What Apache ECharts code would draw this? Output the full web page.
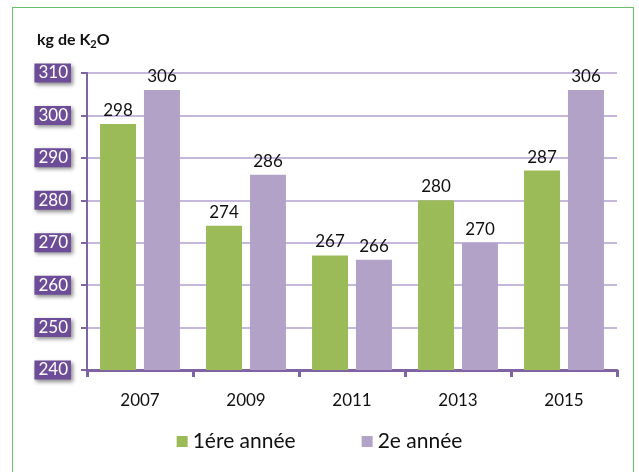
<!DOCTYPE html>
<html>
<head>
<meta charset="utf-8">
<script src="https://cdn.jsdelivr.net/npm/echarts@6/dist/echarts.min.js"></script>
<style>
    html, body { margin: 0; padding: 0; background: #fff; }
    #frame {
        position: absolute; left: 12px; top: 7px; width: 622px; height: 480px;
        border: 1.5px solid #6cc06c; border-bottom: none; box-sizing: border-box;
    }
    #chart { position: absolute; left: 0; top: 0; width: 639px; height: 472px; }
</style>
</head>
<body>
<div id="frame"></div>
<div id="chart"></div>
<script>

const years = ['2007', '2009', '2011', '2013', '2015'];
const firstYear = [298, 274, 267, 280, 287];
const secondYear = [306, 286, 266, 270, 306];
const seriesNames = ['1ére année', '2e année'];

const font = 'Lato, "Open Sans", sans-serif';
const purple = '#7f63a3';

const chart = echarts.init(document.getElementById('chart'));

const labelStyle = {
    show: true,
    position: 'top',
    distance: 5,
    color: '#111',
    fontSize: 17,
    fontFamily: font,
};

chart.setOption({
    animation: false,
    title: {
        text: 'kg de K{sub|2}O',
        left: 32,
        top: 24,
        textStyle: {
            fontSize: 16,
            fontWeight: 'bold',
            color: '#111',
            fontFamily: font,
            rich: {
                sub: { fontSize: 11, fontWeight: 'bold', padding: [10, 0, 0, 0], fontFamily: font },
            },
        },
    },
    legend: {
        bottom: 15,
        left: 'center',
        itemGap: 66,
        itemWidth: 11,
        itemHeight: 11,
        icon: 'rect',
        textStyle: { fontSize: 21, color: '#111', fontFamily: font },
        data: seriesNames,
    },
    grid: { left: 87, right: 22, top: 73, bottom: 102 },
    xAxis: {
        type: 'category',
        data: years,
        axisLine: { lineStyle: { color: purple, width: 3 } },
        axisTick: { show: true, length: 7, lineStyle: { color: purple, width: 3 } },
        axisLabel: { color: '#111', fontSize: 17, margin: 22, fontFamily: font },
    },
    yAxis: {
        type: 'value',
        min: 240,
        max: 310,
        interval: 10,
        axisLine: { show: true, lineStyle: { color: purple, width: 2 } },
        axisTick: { show: true, length: 6, lineStyle: { color: purple, width: 2 } },
        splitLine: { lineStyle: { color: '#c6b8dc', width: 2 } },
        axisLabel: {
            color: '#fff',
            fontSize: 17,
            fontFamily: font,
            margin: 16,
            backgroundColor: '#6e4d98',
            padding: [2, 3, 0, 4],
            shadowColor: 'rgba(0,0,0,0.45)',
            shadowBlur: 4,
            shadowOffsetX: 2,
            shadowOffsetY: 2,
        },
    },
    series: [
        {
            name: seriesNames[0],
            type: 'bar',
            data: firstYear,
            barWidth: 36,
            barGap: '22%',
            itemStyle: { color: '#9bbb59' },
            label: labelStyle,
        },
        {
            name: seriesNames[1],
            type: 'bar',
            data: secondYear,
            barWidth: 36,
            itemStyle: { color: '#b3a2c7' },
            label: labelStyle,
        },
    ],
});

</script>
</body>
</html>
